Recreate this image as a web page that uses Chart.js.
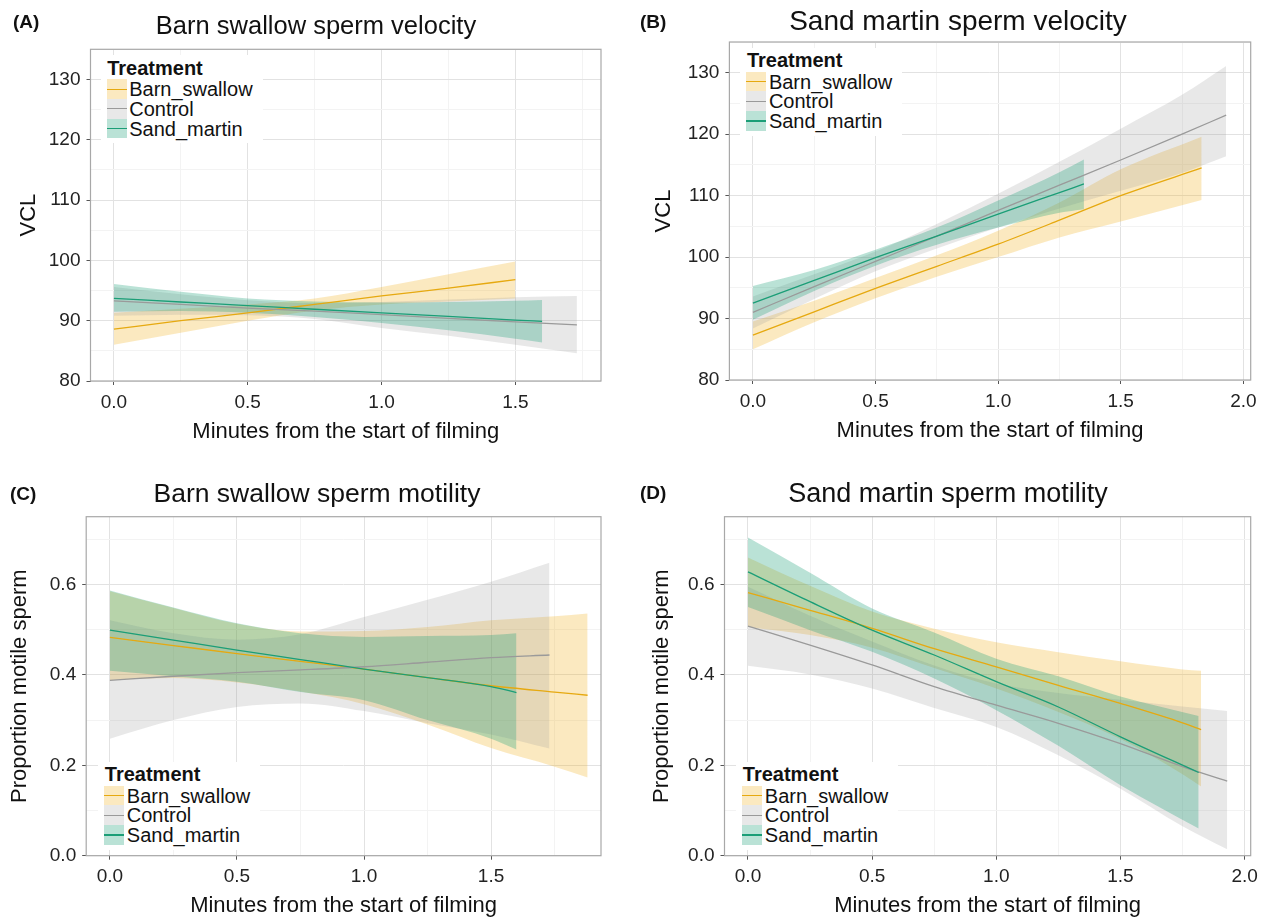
<!DOCTYPE html>
<html>
<head>
<meta charset="utf-8">
<script src="https://cdn.jsdelivr.net/npm/chart.js@4.4.1/dist/chart.umd.min.js"></script>
<style>
html,body{margin:0;padding:0;background:#fff;width:1266px;height:918px;overflow:hidden;}
body{position:relative;font-family:"Liberation Sans",Arial,sans-serif;color:#111;}
.abs{position:absolute;white-space:nowrap;}
canvas{position:absolute;}
</style>
</head>
<body>
<script>
// ---------------- DATA ----------------
const TREATMENTS = ['Barn_swallow', 'Control', 'Sand_martin'];

// Tick values (major ticks carry labels, minor ticks only grid lines)
const X_MAJOR_AC = [0, 0.5, 1, 1.5];
const X_MINOR_AC = [0.25, 0.75, 1.25, 1.75];
const X_MAJOR_BD = [0, 0.5, 1, 1.5, 2];
const X_MINOR_BD = [0.25, 0.75, 1.25, 1.75];
const Y_MAJOR_VCL = [80, 90, 100, 110, 120, 130];
const Y_MINOR_VCL = [85, 95, 105, 115, 125, 135];
const Y_MAJOR_PROP = [0, 0.2, 0.4, 0.6];
const Y_MINOR_PROP = [0.1, 0.3, 0.5, 0.7];

// Panel A: Barn swallow sperm velocity (VCL)
const A_BS_X   = [0, 0.25, 0.5, 0.75, 1.0, 1.25, 1.5];
const A_BS_FIT = [88.6, 90.0, 91.3, 92.7, 94.1, 95.4, 96.8];
const A_BS_LO  = [86.0, 88.0, 90.0, 91.7, 92.7, 93.2, 93.7];
const A_BS_HI  = [91.3, 92.0, 92.7, 93.7, 95.6, 97.7, 99.8];
const A_CO_X   = [0, 0.25, 0.5, 0.75, 1.0, 1.25, 1.5, 1.73];
const A_CO_FIT = [93.3, 92.7, 92.1, 91.6, 91.0, 90.4, 89.8, 89.3];
const A_CO_LO  = [90.8, 91.0, 90.9, 90.3, 88.8, 87.5, 86.0, 84.6];
const A_CO_HI  = [95.6, 94.4, 93.4, 92.9, 93.1, 93.5, 93.9, 94.1];
const A_SM_X   = [0, 0.25, 0.5, 0.75, 1.0, 1.25, 1.5, 1.6];
const A_SM_FIT = [93.7, 93.1, 92.5, 91.9, 91.3, 90.7, 90.1, 89.9];
const A_SM_LO  = [91.5, 91.6, 91.3, 90.6, 89.6, 88.4, 87.0, 86.4];
const A_SM_HI  = [96.1, 94.8, 93.7, 93.2, 93.0, 93.1, 93.3, 93.45];

// Panel B: Sand martin sperm velocity (VCL)
const B_BS_X   = [0, 0.25, 0.5, 0.75, 1.0, 1.25, 1.5, 1.83];
const B_BS_FIT = [87.3, 91.1, 94.9, 98.5, 102.1, 106.0, 110.0, 114.5];
const B_BS_LO  = [85.0, 89.4, 93.3, 96.8, 100.0, 103.2, 105.8, 109.3];
const B_BS_HI  = [89.5, 92.9, 96.6, 100.3, 104.3, 108.9, 114.3, 119.6];
const B_CO_X   = [0, 0.25, 0.5, 0.75, 1.0, 1.25, 1.5, 1.75, 1.93];
const B_CO_FIT = [91.0, 95.2, 99.3, 103.4, 107.6, 111.7, 115.8, 120.0, 123.1];
const B_CO_LO  = [88.4, 93.2, 97.7, 101.4, 104.8, 107.9, 110.8, 113.7, 116.4];
const B_CO_HI  = [93.6, 97.2, 100.9, 105.4, 110.3, 115.5, 120.9, 126.4, 131.1];
const B_SM_X   = [0, 0.25, 0.5, 0.75, 1.0, 1.25, 1.35];
const B_SM_FIT = [92.5, 96.2, 99.9, 103.4, 107.0, 110.5, 111.9];
const B_SM_LO  = [89.8, 94.5, 98.6, 102.0, 104.8, 107.2, 107.8];
const B_SM_HI  = [95.3, 97.9, 101.2, 104.8, 109.2, 113.8, 115.9];

// Panel C: Barn swallow sperm motility (proportion)
const C_BS_X   = [0, 0.25, 0.5, 0.75, 1.0, 1.25, 1.5, 1.75, 1.88];
const C_BS_FIT = [0.483, 0.465, 0.447, 0.430, 0.413, 0.394, 0.376, 0.362, 0.355];
const C_BS_LO  = [0.388, 0.393, 0.383, 0.363, 0.335, 0.290, 0.238, 0.197, 0.173];
const C_BS_HI  = [0.585, 0.548, 0.513, 0.496, 0.497, 0.506, 0.521, 0.530, 0.536];
const C_CO_X   = [0, 0.25, 0.5, 0.75, 1.0, 1.25, 1.5, 1.73];
const C_CO_FIT = [0.388, 0.397, 0.405, 0.411, 0.418, 0.428, 0.438, 0.444];
const C_CO_LO  = [0.259, 0.300, 0.329, 0.337, 0.320, 0.293, 0.268, 0.237];
const C_CO_HI  = [0.521, 0.492, 0.478, 0.490, 0.528, 0.566, 0.606, 0.648];
const C_SM_X   = [0, 0.25, 0.5, 0.75, 1.0, 1.25, 1.5, 1.6];
const C_SM_FIT = [0.499, 0.477, 0.455, 0.434, 0.413, 0.394, 0.374, 0.361];
const C_SM_LO  = [0.409, 0.397, 0.385, 0.362, 0.344, 0.300, 0.259, 0.235];
const C_SM_HI  = [0.587, 0.549, 0.514, 0.492, 0.484, 0.486, 0.488, 0.492];

// Panel D: Sand martin sperm motility (proportion)
const D_BS_X   = [0, 0.25, 0.5, 0.75, 1.0, 1.25, 1.5, 1.75, 1.825];
const D_BS_FIT = [0.582, 0.543, 0.503, 0.458, 0.418, 0.377, 0.337, 0.294, 0.279];
const D_BS_LO  = [0.506, 0.488, 0.460, 0.415, 0.370, 0.318, 0.258, 0.180, 0.153];
const D_BS_HI  = [0.660, 0.597, 0.540, 0.502, 0.472, 0.450, 0.430, 0.412, 0.409];
const D_CO_X   = [0, 0.25, 0.5, 0.75, 1.0, 1.25, 1.5, 1.75, 1.93];
const D_CO_FIT = [0.508, 0.466, 0.422, 0.374, 0.333, 0.293, 0.248, 0.197, 0.165];
const D_CO_LO  = [0.420, 0.401, 0.370, 0.327, 0.285, 0.222, 0.148, 0.065, 0.014];
const D_CO_HI  = [0.595, 0.531, 0.474, 0.421, 0.381, 0.360, 0.345, 0.330, 0.320];
const D_SM_X   = [0, 0.25, 0.5, 0.75, 1.0, 1.25, 1.5, 1.815];
const D_SM_FIT = [0.628, 0.562, 0.499, 0.444, 0.385, 0.329, 0.263, 0.184];
const D_SM_LO  = [0.550, 0.499, 0.451, 0.392, 0.322, 0.243, 0.156, 0.060];
const D_SM_HI  = [0.704, 0.626, 0.547, 0.494, 0.436, 0.397, 0.352, 0.309];

// ---------------- STYLE / LAYOUT ----------------
const FONT = '"Liberation Sans", Arial, sans-serif';
const COLORS = {
  Barn_swallow: {line: '#E6A910', fill: 'rgba(240,175,30,0.28)'},
  Control:      {line: '#9a9a9a', fill: 'rgba(150,150,150,0.22)'},
  Sand_martin:  {line: '#1B9E77', fill: 'rgba(27,158,119,0.30)'}
};
Chart.defaults.font.family = FONT;

const frame = {
  id: 'frame',
  afterDraw(chart) {
    const {ctx, chartArea: a} = chart;
    ctx.save();
    ctx.strokeStyle = '#a8a8a8';
    ctx.lineWidth = 1.2;
    ctx.strokeRect(a.left, a.top, a.right - a.left, a.bottom - a.top);
    ctx.restore();
  }
};

function pts(xs, ys) { return xs.map((x, i) => ({x: x, y: ys[i]})); }
function isIn(arr, v) { return arr.some(a => Math.abs(a - v) < 1e-9); }

function addText(text, style) {
  const d = document.createElement('div');
  d.className = 'abs';
  d.textContent = text;
  Object.assign(d.style, style);
  document.body.appendChild(d);
  return d;
}
function addBox(style) {
  const d = document.createElement('div');
  d.className = 'abs';
  Object.assign(d.style, style);
  document.body.appendChild(d);
  return d;
}

function addLegend(keyLeft, rowTop) {
  const rowH = 19.7;
  addBox({left: (keyLeft - 6) + 'px', top: (rowTop - 24) + 'px', width: '162px', height: '88px', background: '#fff'});
  addText('Treatment', {left: (keyLeft + 0.5) + 'px', top: (rowTop - 11.5 - 12) + 'px', lineHeight: '24px',
    fontSize: '20px', fontWeight: 'bold', color: '#111'});
  TREATMENTS.forEach((k, i) => {
    const y = rowTop + i * rowH;
    addBox({left: keyLeft + 'px', top: y + 'px', width: '20px', height: rowH + 'px', background: COLORS[k].fill});
    addBox({left: keyLeft + 'px', top: (y + rowH / 2 - 0.65) + 'px', width: '20px', height: '1.3px', background: COLORS[k].line});
    addText(k, {left: (keyLeft + 22.5) + 'px', top: (y + rowH / 2 - 12) + 'px', lineHeight: '24px', fontSize: '20px', color: '#111'});
  });
}

function makePanel(p) {
  const cv = document.createElement('canvas');
  cv.width = p.w; cv.height = p.h;
  cv.style.left = p.left + 'px'; cv.style.top = p.top + 'px';
  cv.style.width = p.w + 'px'; cv.style.height = p.h + 'px';
  document.body.appendChild(cv);

  const order = ['Sand_martin', 'Control', 'Barn_swallow'];
  const lines = order.map(k => ({
    label: k, data: pts(p.series[k].x, p.series[k].fit),
    borderColor: COLORS[k].line, borderWidth: 1.3, pointRadius: 0, fill: false,
    cubicInterpolationMode: 'monotone'
  }));
  const bands = [];
  order.forEach(k => {
    bands.push({label: k + '_lo', data: pts(p.series[k].x, p.series[k].lo), borderColor: 'transparent',
      borderWidth: 0, pointRadius: 0, fill: false, cubicInterpolationMode: 'monotone'});
    bands.push({label: k + '_hi', data: pts(p.series[k].x, p.series[k].hi), borderColor: 'transparent',
      borderWidth: 0, pointRadius: 0, fill: '-1', backgroundColor: COLORS[k].fill, cubicInterpolationMode: 'monotone'});
  });

  const xTicks = p.xMajor.concat(p.xMinor).sort((a, b) => a - b);
  const yTicks = p.yMajor.concat(p.yMinor).sort((a, b) => a - b);
  const majorGrid = '#e2e2e2', minorGrid = '#f3f3f3';

  new Chart(cv, {
    type: 'line',
    data: {datasets: lines.concat(bands)},
    plugins: [frame],
    options: {
      responsive: false, animation: false, events: [],
      layout: {padding: {left: 0, top: p.T, right: p.w - p.R, bottom: 0}},
      plugins: {legend: {display: false}, tooltip: {enabled: false},
        filler: {drawTime: 'beforeDatasetsDraw', propagate: false}},
      scales: {
        x: {
          type: 'linear', min: p.xmin, max: p.xmax,
          afterBuildTicks: s => { s.ticks = xTicks.map(v => ({value: v})); },
          afterFit: s => { s.height = p.h - p.B; },
          border: {display: false},
          grid: {
            color: c => (c.tick && isIn(p.xMajor, c.tick.value)) ? majorGrid : minorGrid,
            tickColor: c => (c.tick && isIn(p.xMajor, c.tick.value)) ? '#555' : 'rgba(0,0,0,0)',
            tickLength: 4, lineWidth: 1
          },
          ticks: {
            autoSkip: false, maxRotation: 0, minRotation: 0, padding: 6,
            font: {size: 19}, color: '#222',
            callback: v => isIn(p.xMajor, v) ? Number(v).toFixed(1) : ''
          },
          title: {display: true, text: 'Minutes from the start of filming', color: '#111',
            font: {size: 22}, padding: {top: 0, bottom: p.xTitlePad}}
        },
        y: {
          type: 'linear', min: p.ymin, max: p.ymax,
          afterBuildTicks: s => { s.ticks = yTicks.map(v => ({value: v})); },
          afterFit: s => { s.width = p.L; },
          border: {display: false},
          grid: {
            color: c => (c.tick && isIn(p.yMajor, c.tick.value)) ? majorGrid : minorGrid,
            tickColor: c => (c.tick && isIn(p.yMajor, c.tick.value)) ? '#555' : 'rgba(0,0,0,0)',
            tickLength: 4, lineWidth: 1
          },
          ticks: {
            autoSkip: false, padding: 6, font: {size: 19}, color: '#222',
            callback: v => isIn(p.yMajor, v) ? Number(v).toFixed(p.yDec) : ''
          },
          title: {display: true, text: p.yTitle, color: '#111', font: {size: 22},
            padding: {top: p.yTitlePad, bottom: 0}}
        }
      }
    }
  });

  addText(p.letter, {left: p.letterX + 'px', top: (p.letterY - 12) + 'px', lineHeight: '24px',
    fontSize: '19px', fontWeight: 'bold', color: '#111'});
  addText(p.title, {left: (p.titleX - 300) + 'px', width: '600px', textAlign: 'center',
    top: (p.titleY - 18) + 'px', lineHeight: '36px', fontSize: p.titleSize + 'px', color: '#111'});
  addLegend(p.legKeyLeft, p.legRowTop);
}

const panels = [
  {letter: '(A)', title: 'Barn swallow sperm velocity', left: 0, top: 0, w: 633, h: 450,
   L: 90.5, T: 49.3, R: 601, B: 381, xmin: -0.0875, xmax: 1.82, ymin: 80, ymax: 135,
   xMajor: X_MAJOR_AC, xMinor: X_MINOR_AC, yMajor: Y_MAJOR_VCL, yMinor: Y_MINOR_VCL, yDec: 0,
   yTitle: 'VCL', yTitlePad: 15.4, xTitlePad: 5.2,
   letterX: 13, letterY: 22, titleX: 316, titleY: 24.5, titleSize: 25.5,
   legKeyLeft: 106.7, legRowTop: 79.3,
   series: {
     Barn_swallow: {x: A_BS_X, fit: A_BS_FIT, lo: A_BS_LO, hi: A_BS_HI},
     Control: {x: A_CO_X, fit: A_CO_FIT, lo: A_CO_LO, hi: A_CO_HI},
     Sand_martin: {x: A_SM_X, fit: A_SM_FIT, lo: A_SM_LO, hi: A_SM_HI}}},
  {letter: '(B)', title: 'Sand martin sperm velocity', left: 633, top: 0, w: 633, h: 450,
   L: 96.4, T: 42, R: 617.7, B: 380, xmin: -0.0958, xmax: 2.03, ymin: 80, ymax: 135,
   xMajor: X_MAJOR_BD, xMinor: X_MINOR_BD, yMajor: Y_MAJOR_VCL, yMinor: Y_MINOR_VCL, yDec: 0,
   yTitle: 'VCL', yTitlePad: 17.3, xTitlePad: 5.8,
   letterX: 640, letterY: 22, titleX: 958, titleY: 20.5, titleSize: 28,
   legKeyLeft: 746.4, legRowTop: 71.7,
   series: {
     Barn_swallow: {x: B_BS_X, fit: B_BS_FIT, lo: B_BS_LO, hi: B_BS_HI},
     Control: {x: B_CO_X, fit: B_CO_FIT, lo: B_CO_LO, hi: B_CO_HI},
     Sand_martin: {x: B_SM_X, fit: B_SM_FIT, lo: B_SM_LO, hi: B_SM_HI}}},
  {letter: '(C)', title: 'Barn swallow sperm motility', left: 0, top: 450, w: 633, h: 475,
   L: 86.2, T: 66.7, R: 601, B: 405.7, xmin: -0.0933, xmax: 1.9327, ymin: 0, ymax: 0.75,
   xMajor: X_MAJOR_AC, xMinor: X_MINOR_AC, yMajor: Y_MAJOR_PROP, yMinor: Y_MINOR_PROP, yDec: 1,
   yTitle: 'Proportion motile sperm', yTitlePad: 6.6, xTitlePad: 5.5,
   letterX: 10, letterY: 493.5, titleX: 317, titleY: 492.5, titleSize: 26.5,
   legKeyLeft: 104.3, legRowTop: 785.7,
   series: {
     Barn_swallow: {x: C_BS_X, fit: C_BS_FIT, lo: C_BS_LO, hi: C_BS_HI},
     Control: {x: C_CO_X, fit: C_CO_FIT, lo: C_CO_LO, hi: C_CO_HI},
     Sand_martin: {x: C_SM_X, fit: C_SM_FIT, lo: C_SM_LO, hi: C_SM_HI}}},
  {letter: '(D)', title: 'Sand martin sperm motility', left: 633, top: 450, w: 633, h: 475,
   L: 91.5, T: 66.7, R: 617.7, B: 405.7, xmin: -0.0946, xmax: 2.0246, ymin: 0, ymax: 0.75,
   xMajor: X_MAJOR_BD, xMinor: X_MINOR_BD, yMajor: Y_MAJOR_PROP, yMinor: Y_MINOR_PROP, yDec: 1,
   yTitle: 'Proportion motile sperm', yTitlePad: 15.3, xTitlePad: 5.5,
   letterX: 640, letterY: 493, titleX: 948, titleY: 492.5, titleSize: 27,
   legKeyLeft: 742.3, legRowTop: 785.7,
   series: {
     Barn_swallow: {x: D_BS_X, fit: D_BS_FIT, lo: D_BS_LO, hi: D_BS_HI},
     Control: {x: D_CO_X, fit: D_CO_FIT, lo: D_CO_LO, hi: D_CO_HI},
     Sand_martin: {x: D_SM_X, fit: D_SM_FIT, lo: D_SM_LO, hi: D_SM_HI}}}
];

panels.forEach(makePanel);
</script>
</body>
</html>
